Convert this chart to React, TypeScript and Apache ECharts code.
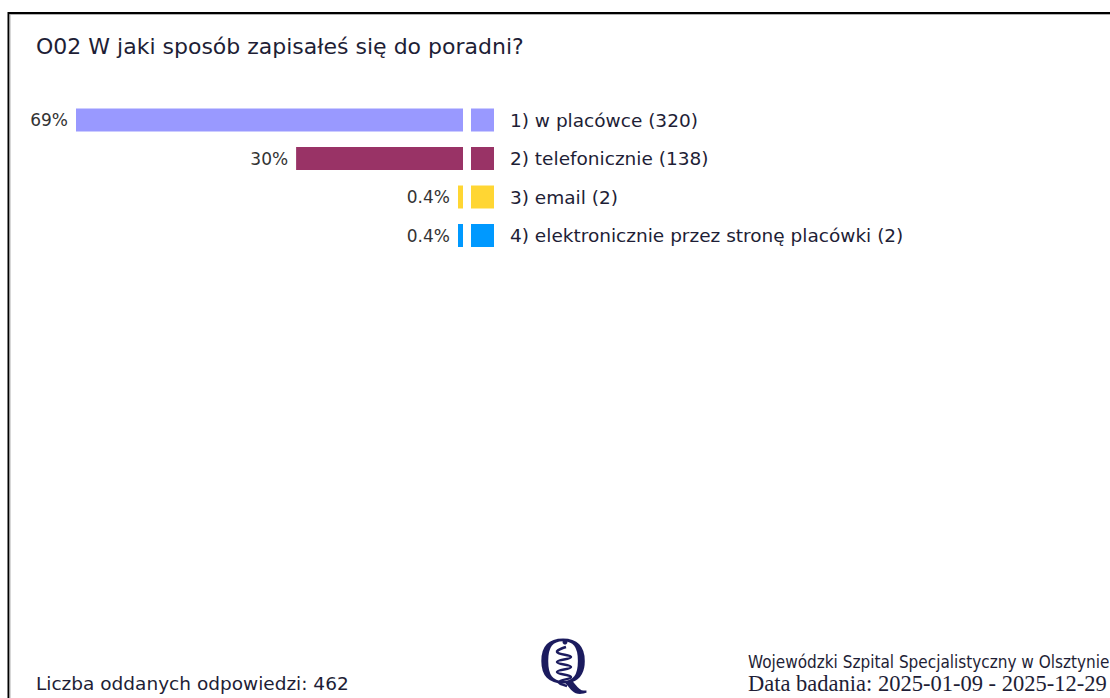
import React, { useEffect, useRef } from "react";
import * as echarts from "echarts";

const categories = ["w placówce", "telefonicznie", "email", "elektronicznie przez stronę placówki"];
const counts = [320, 138, 2, 2];
const colors = ["#9999ff", "#993366", "#ffd633", "#0099ff"];
const titleText = "O02 W jaki sposób zapisałeś się do poradni?";
const footerLeft = "Liczba oddanych odpowiedzi: 462";
const footerOrg = "Wojewódzki Szpital Specjalistyczny w Olsztynie";
const footerDate = "Data badania: 2025-01-09 - 2025-12-29";

const total = counts.reduce((a, b) => a + b, 0);
const percents = counts.map((c) => (c / total) * 100);
const fmtPct = (p: number) => (p < 1 ? p.toFixed(1) : Math.round(p).toString()) + "%";
const labels = categories.map((n, i) => `${i + 1}) ${n} (${counts[i]})`);

const FONT = "DejaVu Sans";
const TXT = "#1e1e36";
const NAVY = "#1b1b5e";

export default function App() {
  const ref = useRef<HTMLDivElement>(null);
  useEffect(() => {
    if (!ref.current) return;
    const chart = echarts.init(ref.current, undefined, { renderer: "svg" });
    const rich: any = {
      gap: { width: 16 },
      t: { fontFamily: FONT, fontSize: 18.5, color: TXT },
    };
    colors.forEach((c, i) => {
      rich["s" + i] = { width: 23, height: 23, backgroundColor: c };
    });
    chart.setOption({
      animation: false,
      backgroundColor: "#ffffff",
      grid: { left: 76, right: 647, top: 100.75, bottom: 443.25, containLabel: false },
      xAxis: {
        type: "value",
        inverse: true,
        min: 0,
        max: "dataMax",
        show: false,
      },
      yAxis: {
        type: "category",
        inverse: true,
        position: "right",
        data: labels,
        axisLine: { show: false },
        axisTick: { show: false },
        axisLabel: {
          margin: 8,
          formatter: (v: string, i: number) => `{s${i}|}{gap|}{t|${v}}`,
          rich,
        },
      },
      series: [
        {
          type: "bar",
          barWidth: 23,
          barMinHeight: 5,
          data: percents.map((p, i) => ({ value: p, itemStyle: { color: colors[i] } })),
          label: {
            show: true,
            position: "left",
            distance: 8,
            fontFamily: FONT,
            fontSize: 17,
            color: "#333333",
            formatter: (p: any) => fmtPct(p.value),
          },
        },
      ],
      graphic: [
        { type: "line", shape: { x1: 8, y1: 13, x2: 1110, y2: 13 }, style: { stroke: "#000", lineWidth: 2 } },
        { type: "line", shape: { x1: 9, y1: 14.5, x2: 1110, y2: 14.5 }, style: { stroke: "#b0b0b0", lineWidth: 1 } },
        { type: "line", shape: { x1: 8.5, y1: 12, x2: 8.5, y2: 698 }, style: { stroke: "#000", lineWidth: 2 } },
        { type: "line", shape: { x1: 10, y1: 14, x2: 10, y2: 698 }, style: { stroke: "#b0b0b0", lineWidth: 1 } },
        {
          type: "text",
          x: 36,
          y: 46,
          style: { text: titleText, fontFamily: FONT, fontSize: 22, fill: TXT, verticalAlign: "middle" },
        },
        {
          type: "text",
          x: 36,
          y: 683,
          style: { text: footerLeft, fontFamily: FONT, fontSize: 18.5, fill: TXT, verticalAlign: "middle" },
        },
        {
          type: "text",
          x: 748,
          y: 662,
          style: { text: footerOrg, fontFamily: "DejaVu Sans Condensed", fontSize: 17, fill: TXT, verticalAlign: "middle" },
        },
        {
          type: "text",
          x: 748,
          y: 683,
          style: { text: footerDate, fontFamily: "Liberation Serif", fontSize: 22.5, fill: TXT, verticalAlign: "middle" },
        },
        {
          type: "text",
          x: 563,
          y: 660,
          style: { text: "Q", fontFamily: "Liberation Serif", fontSize: 68, fill: NAVY, align: "center", verticalAlign: "middle" },
        },
        { type: "circle", shape: { cx: 565, cy: 642, r: 2.5 }, style: { fill: NAVY } },
        {
          type: "polyline",
          shape: {
            points: [
              [566, 647], [557, 652], [571, 657], [557, 662], [571, 667], [557, 672], [571, 677], [559, 682], [567, 686],
            ],
            smooth: 0.5,
          },
          style: { stroke: NAVY, lineWidth: 2.5, fill: "none" },
        },
      ],
    });
    return () => chart.dispose();
  }, []);
  return <div ref={ref} style={{ position: "fixed", left: 0, top: 0, width: 1110, height: 698 }} />;
}
